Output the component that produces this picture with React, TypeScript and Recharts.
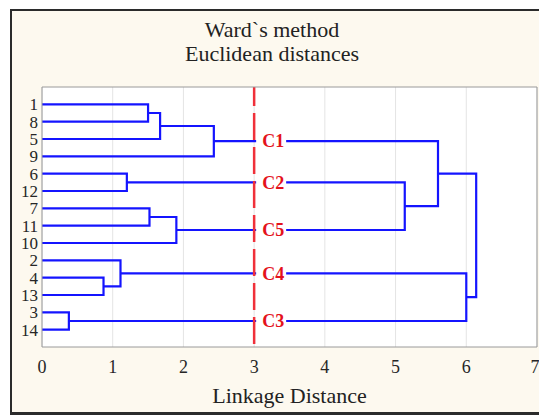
import { ComposedChart, Line, Scatter, XAxis, YAxis, CartesianGrid, ReferenceLine } from "recharts";

// leaves, top to bottom
const leafLabels = ["1", "8", "5", "9", "6", "12", "7", "11", "10", "2", "4", "13", "3", "14"];

// [id, left child, right child, linkage distance]
const merges: [string, string, string, number][] = [
  ["a", "1", "8", 1.5],
  ["b", "a", "5", 1.67],
  ["C1", "b", "9", 2.43],
  ["C2", "6", "12", 1.2],
  ["c", "7", "11", 1.52],
  ["C5", "c", "10", 1.9],
  ["d", "4", "13", 0.87],
  ["C4", "2", "d", 1.11],
  ["C3", "3", "14", 0.38],
  ["e", "C2", "C5", 5.13],
  ["f", "C1", "e", 5.6],
  ["g", "C4", "C3", 6.0],
  ["root", "f", "g", 6.14],
];

const clusterLabels = ["C1", "C2", "C5", "C4", "C3"];
const cutDistance = 3;

const xTicks = [0, 1, 2, 3, 4, 5, 6, 7];
const xMinorTicks = [
  0, 0.25, 0.5, 0.75, 1, 1.25, 1.5, 1.75, 2, 2.25, 2.5, 2.75, 3, 3.25, 3.5, 3.75,
  4, 4.25, 4.5, 4.75, 5, 5.25, 5.5, 5.75, 6, 6.25, 6.5, 6.75, 7,
];
const yTicks = [1, 2, 3, 4, 5, 6, 7, 8, 9, 10, 11, 12, 13, 14];

const SERIF = "'Liberation Serif', 'Times New Roman', serif";
const BLUE = "#1414ff";
const RED = "#f0303a";

const pos: Record<string, { y: number; h: number }> = {};
leafLabels.forEach((l, i) => (pos[l] = { y: i + 1, h: 0 }));
merges.forEach(([id, a, b, h]) => (pos[id] = { y: (pos[a].y + pos[b].y) / 2, h }));

const links = merges.map(([id, a, b, h]) => ({
  id,
  pts: [
    { x: pos[a].h, y: pos[a].y },
    { x: h, y: pos[a].y },
    { x: h, y: pos[b].y },
    { x: pos[b].h, y: pos[b].y },
  ],
}));

const labelPoints = clusterLabels.map((name) => ({ x: cutDistance, y: pos[name].y, name }));

function ClusterTag(props: any) {
  const { cx, cy, payload } = props;
  return (
    <g>
      <rect x={cx + 2} y={cy - 9} width={30} height={18} fill="#fff" />
      <text x={cx + 8} y={cy} dy="0.35em" fill="#e4121c" fontWeight="bold" fontSize={18} fontFamily={SERIF}>
        {payload.name}
      </text>
    </g>
  );
}

function LeafTick(props: any) {
  const { x, y, payload } = props;
  return (
    <text x={x} y={y} dy={6} textAnchor="end" fontSize={17} fill="#262626" fontFamily={SERIF}>
      {leafLabels[payload.value - 1]}
    </text>
  );
}

function DistTick(props: any) {
  const { x, y, payload } = props;
  return (
    <text x={x} y={y} dy={12} textAnchor="middle" fontSize={18} fill="#262626" fontFamily={SERIF}>
      {payload.value}
    </text>
  );
}

export default function App() {
  return (
    <div style={{ position: "absolute", left: 0, top: 0, width: 539, height: 415, overflow: "hidden", fontFamily: SERIF, color: "#222" }}>
      <div
        style={{
          position: "absolute", left: 10, top: 9, width: 540, height: 401,
          background: "#fdf9ef", borderLeft: "2px solid #2b2b2b", borderTop: "2px solid #2b2b2b",
          borderBottom: "3px solid #2b2b2b",
        }}
      />
      <div
        style={{
          position: "absolute", left: 10, top: 18, width: 524, textAlign: "center",
          fontSize: 22, lineHeight: "24px",
        }}
      >
        <div>Ward`s method</div>
        <div>Euclidean distances</div>
      </div>
      <div
        style={{
          position: "absolute", left: 42, top: 384, width: 495, textAlign: "center",
          fontSize: 22, lineHeight: "24px",
        }}
      >
        Linkage Distance
      </div>
      <div style={{ position: "absolute", left: 0, top: 0 }}>
        <ComposedChart width={539} height={415} margin={{ top: 87, right: 2, bottom: 0, left: 12 }}>
          <CartesianGrid horizontal={false} stroke="#e4e4e4" fill="#fff" />
          <XAxis
            dataKey="x" type="number" domain={[0, 7]} ticks={xTicks} allowDataOverflow height={68}
            tickLine={false} tickSize={0} tickMargin={14} axisLine={{ stroke: "#9a9a9a" }}
            tick={<DistTick />}
          />
          <XAxis xAxisId="bm" type="number" domain={[0, 7]} ticks={xMinorTicks} orientation="bottom" mirror
            tick={false} tickSize={3} axisLine={false} tickLine={{ stroke: "#888" }} />
          <XAxis xAxisId="tm" type="number" domain={[0, 7]} ticks={xMinorTicks} orientation="top" mirror
            tick={false} tickSize={3} axisLine={{ stroke: "#9a9a9a" }} tickLine={{ stroke: "#888" }} />
          <YAxis
            dataKey="y" type="number" domain={[0, 15]} reversed ticks={yTicks} width={30} allowDataOverflow
            tickLine={false} tickSize={0} tickMargin={4} axisLine={{ stroke: "#9a9a9a" }} interval={0}
            tick={<LeafTick />}
          />
          <YAxis yAxisId="rm" type="number" domain={[0, 15]} reversed ticks={yTicks} orientation="right" mirror
            tick={false} tickSize={3} axisLine={{ stroke: "#9a9a9a" }} tickLine={{ stroke: "#888" }} interval={0} />
          {links.map((l) => (
            <Line key={l.id} data={l.pts} dataKey="y" type="linear" stroke={BLUE} strokeWidth={2.2}
              dot={false} activeDot={false} isAnimationActive={false} />
          ))}
          <ReferenceLine x={cutDistance} stroke={RED} strokeWidth={2.5} strokeDasharray="27 7" strokeDashoffset={-3} />
          <Scatter data={labelPoints} dataKey="y" shape={<ClusterTag />} isAnimationActive={false} />
        </ComposedChart>
      </div>
    </div>
  );
}
